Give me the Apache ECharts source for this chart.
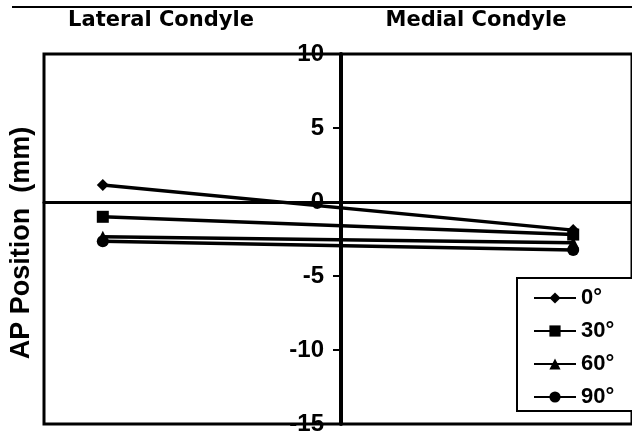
<!DOCTYPE html>
<html>
<head>
<meta charset="utf-8">
<script src="https://cdn.jsdelivr.net/npm/echarts@6/dist/echarts.min.js"></script>
<style>
  html, body { margin: 0; padding: 0; background: #fff; }
  #chart { width: 632px; height: 436px; }
</style>
</head>
<body>
<div id="chart"></div>
<script>
// Condyle positions on the horizontal scale (lateral left, medial right)
const condyleX = [-4, 4];
const regionLabels = ['Lateral Condyle', 'Medial Condyle'];

// Flexion angles and AP position (mm) for lateral / medial condyle
const angleNames = ['0°', '30°', '60°', '90°'];
const ap0 = [1.15, -1.9];
const ap30 = [-1.0, -2.2];
const ap60 = [-2.35, -2.75];
const ap90 = [-2.65, -3.25];
const angleSymbols = ['diamond', 'rect', 'triangle', 'circle'];

const yTicks = [10, 5, 0, -5, -10, -15];

const seriesValues = [ap0, ap30, ap60, ap90];

const gridLeft = 44;
const gridRight = -6;
const chartWidth = 632;

const chart = echarts.init(document.getElementById('chart'), null, { renderer: 'canvas' });

// The vertical axis sits in the middle of the plot (at x = 0)
const plotWidth = chartWidth - gridLeft - gridRight;
const midOffset = -plotWidth / 2;

const series = angleNames.map((name, i) => ({
  name: name,
  type: 'line',
  data: condyleX.map((x, j) => [x, seriesValues[i][j]]),
  symbol: angleSymbols[i],
  symbolSize: 12,
  showSymbol: true,
  lineStyle: { color: '#000', width: 3.5 },
  itemStyle: { color: '#000' },
  z: 3
}));

chart.setOption({
  animation: false,
  backgroundColor: '#fff',
  grid: {
    left: gridLeft, right: gridRight, top: 54, bottom: 3,
    show: true,
    borderColor: '#000',
    borderWidth: 3,
    backgroundColor: 'transparent'
  },
  xAxis: {
    type: 'value',
    min: -5, max: 5,
    axisLine: { onZero: true, lineStyle: { color: '#000', width: 3 } },
    axisTick: { show: false },
    axisLabel: { show: false },
    splitLine: { show: false }
  },
  yAxis: {
    type: 'value',
    position: 'left',
    offset: midOffset,
    min: -15, max: 10, interval: 5,
    axisLine: { onZero: false, lineStyle: { color: '#000', width: 4 } },
    axisTick: { show: true, length: 8, lineStyle: { color: '#000', width: 2 } },
    axisLabel: {
      color: '#000',
      fontFamily: 'Liberation Sans',
      fontWeight: 'bold',
      fontSize: 24,
      margin: 17,
      formatter: v => yTicks.includes(v) ? String(v) : ''
    },
    splitLine: { show: false },
    z: 4
  },
  legend: {
    orient: 'vertical',
    left: 517, top: 278,
    padding: [9, 40, 3, 16],
    itemGap: 11,
    itemWidth: 42,
    itemHeight: 14,
    borderColor: '#000',
    borderWidth: 2,
    backgroundColor: '#fff',
    textStyle: { color: '#000', fontFamily: 'Liberation Sans', fontWeight: 'bold', fontSize: 22 },
    data: angleNames
  },
  graphic: [
    { type: 'line', shape: { x1: 12, y1: 7, x2: 632, y2: 7 }, style: { stroke: '#000', lineWidth: 2 } },
    { type: 'text', x: 161, y: 21, style: { text: regionLabels[0], fill: '#000', font: 'bold 21px "DejaVu Sans"', textAlign: 'center', textVerticalAlign: 'middle' } },
    { type: 'text', x: 476, y: 21, style: { text: regionLabels[1], fill: '#000', font: 'bold 21px "DejaVu Sans"', textAlign: 'center', textVerticalAlign: 'middle' } },
    { type: 'text', x: 22, y: 243, rotation: Math.PI / 2, style: { text: 'AP Position  (mm)', fill: '#000', font: 'bold 27px "Liberation Sans"', textAlign: 'center', textVerticalAlign: 'middle' } }
  ],
  series: series
});
</script>
</body>
</html>
